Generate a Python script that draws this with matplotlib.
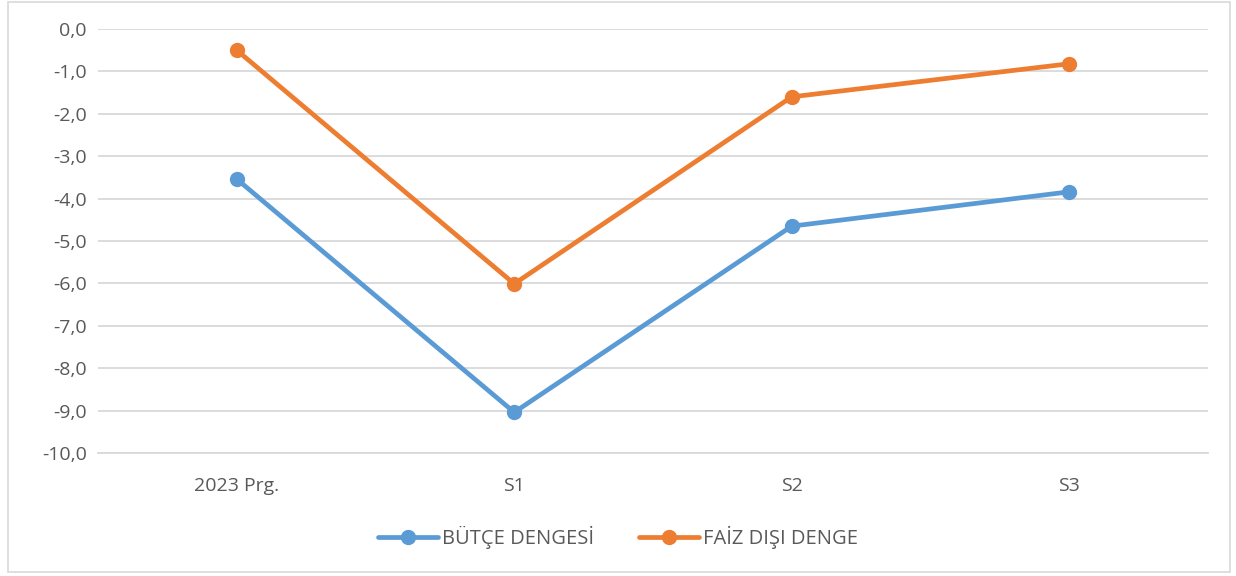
import matplotlib
matplotlib.use("Agg")
import matplotlib.pyplot as plt
from matplotlib.patches import Rectangle
from matplotlib.ticker import FuncFormatter

categories = ["2023 Prg.", "S1", "S2", "S3"]
butce_dengesi = [-3.54, -9.04, -4.65, -3.84]
faiz_disi_denge = [-0.50, -6.01, -1.60, -0.82]

plt.rcParams['font.family'] = ['Open Sans', 'DejaVu Sans']
text_col = '#595959'

fig = plt.figure(figsize=(12.36, 5.76), dpi=100)
ax = fig.add_axes([98/1236, 1-453/576, 1110/1236, 424/576])

x = range(len(categories))
ax.plot(x, butce_dengesi, color='#5B9BD5', lw=3.4, marker='o', ms=10,
        label='BÜTÇE DENGESİ', solid_capstyle='round')
ax.plot(x, faiz_disi_denge, color='#ED7D31', lw=3.4, marker='o', ms=10,
        label='FAİZ DIŞI DENGE', solid_capstyle='round')

ax.set_xlim(-0.5, 3.5)
ax.set_ylim(-10, 0)
ax.set_yticks([-10, -9, -8, -7, -6, -5, -4, -3, -2, -1, 0])
ax.yaxis.set_major_formatter(FuncFormatter(lambda v, p: f"{v:.1f}".replace('.', ',')))
ax.set_xticks(list(x))
ax.set_xticklabels(categories)
ax.grid(axis='y', color='#D9D9D9', lw=1.3)
ax.set_axisbelow(True)
for s in ax.spines.values():
    s.set_visible(False)
ax.spines['bottom'].set_visible(True)
ax.spines['bottom'].set_color('#D9D9D9')
ax.spines['bottom'].set_linewidth(1.3)
ax.tick_params(length=0, labelsize=14, colors=text_col, pad=17)
ax.tick_params(axis='y', pad=8)

leg = fig.legend(loc='center', bbox_to_anchor=(0.5, 1-537/576), ncol=2, frameon=False,
                 fontsize=14.5, handlelength=3.0, columnspacing=2.2, handletextpad=0.2)
for t in leg.get_texts():
    t.set_color(text_col)

fig.patches.append(Rectangle((8/1236, 4/576), 1222/1236, 570/576, transform=fig.transFigure,
                             fill=False, edgecolor='#D9D9D9', lw=1.2))

fig.savefig('out.png', dpi=100)
